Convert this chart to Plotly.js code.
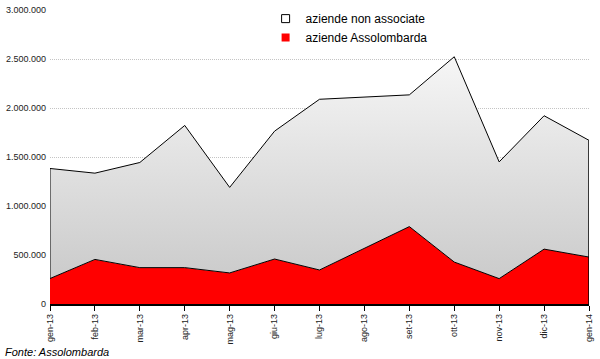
<!DOCTYPE html>
<html>
<head>
<meta charset="utf-8">
<script src="https://cdn.plot.ly/plotly-3.0.1.min.js"></script>
<style>html,body{margin:0;padding:0;background:#fff;}#chart{width:600px;height:359px;}</style>
</head>
<body>
<div id="chart"></div>
<script>
const months = ['gen-13','feb-13','mar-13','apr-13','mag-13','giu-13','lug-13','ago-13','set-13','ott-13','nov-13','dic-13','gen-14'];
// aziende Assolombarda (bottom layer)
const assolombarda = [260000, 455000, 371000, 371000, 317000, 459000, 347000, 570000, 790000, 428000, 259000, 560000, 479000];
// aziende non associate (stacked above)
const nonAssociate = [1123000, 880000, 1073000, 1451000, 873000, 1305000, 1742000, 1540000, 1344000, 2095000, 1191000, 1361000, 1191000];
const yTicks = [0, 500000, 1000000, 1500000, 2000000, 2500000, 3000000];

const totals = months.map((m, i) => assolombarda[i] + nonAssociate[i]);
const xIdx = months.map((m, i) => i);
const last = months.length - 1;

const traces = [
  {
    x: xIdx, y: assolombarda, name: 'aziende Assolombarda', type: 'scatter', mode: 'lines',
    stackgroup: 'one', fill: 'tozeroy', fillcolor: '#ff0000',
    line: {color: '#000000', width: 1}, showlegend: false
  },
  {
    x: xIdx, y: nonAssociate, name: 'aziende non associate', type: 'scatter', mode: 'lines',
    stackgroup: 'one', fill: 'tonexty',
    fillgradient: {type: 'vertical', start: 0, stop: 3000000, colorscale: [[0, '#c6c6c6'], [1, '#ffffff']]},
    fillcolor: '#e6e6e6',
    line: {color: '#000000', width: 1}, showlegend: false
  },
  {
    x: [0, 0], y: [assolombarda[0], totals[0]], type: 'scatter', mode: 'lines',
    line: {color: '#000000', width: 1}, showlegend: false, hoverinfo: 'skip'
  },
  {
    x: [last, last], y: [0, totals[last]], type: 'scatter', mode: 'lines',
    line: {color: '#000000', width: 1.5}, showlegend: false, hoverinfo: 'skip'
  },
  {
    x: [null], y: [null], name: 'aziende non associate', type: 'scatter', mode: 'markers',
    marker: {symbol: 'square', size: 8, color: '#ffffff', line: {color: '#000000', width: 1}}
  },
  {
    x: [null], y: [null], name: 'aziende Assolombarda', type: 'scatter', mode: 'markers',
    marker: {symbol: 'square', size: 8, color: '#ff0000', line: {color: '#ff0000', width: 0}}
  }
];

const layout = {
  width: 600, height: 359,
  margin: {l: 50, r: 11, t: 10, b: 55, autoexpand: false},
  paper_bgcolor: '#ffffff', plot_bgcolor: '#ffffff',
  separators: ',.',
  font: {family: 'Liberation Sans, Arial, sans-serif', size: 9, color: '#222222'},
  showlegend: true,
  legend: {
    x: 0.40, y: 1.02, xanchor: 'left', yanchor: 'top',
    font: {size: 12, color: '#000000'}, bgcolor: 'rgba(0,0,0,0)',
    tracegroupgap: 0, itemwidth: 30, traceorder: 'normal'
  },
  xaxis: {
    type: 'linear', range: [0, 12],
    tickmode: 'array', tickvals: xIdx, ticktext: months,
    tickangle: -90, ticks: 'outside', ticklen: 5, tickcolor: '#000000',
    showline: true, linecolor: '#000000', linewidth: 1.5,
    showgrid: false, zeroline: false, fixedrange: true,
    tickfont: {size: 9, color: '#222222'}
  },
  yaxis: {
    range: [0, 3000000], tickmode: 'array',
    tickvals: yTicks,
    tickformat: ',d',
    showgrid: true, gridcolor: '#c4c4c4', griddash: '1px,1px', gridwidth: 1,
    zeroline: false, showline: false, ticks: '', fixedrange: true,
    ticklabelstandoff: 3,
    tickfont: {size: 9, color: '#222222'}
  },
  annotations: [
    {
      text: '<i>Fonte: Assolombarda</i>', xref: 'paper', yref: 'paper',
      x: -0.087, y: -0.163, xanchor: 'left', yanchor: 'middle', showarrow: false,
      font: {size: 11, color: '#000000'}
    }
  ]
};

Plotly.newPlot('chart', traces, layout, {displayModeBar: false, staticPlot: true});
</script>
</body>
</html>
